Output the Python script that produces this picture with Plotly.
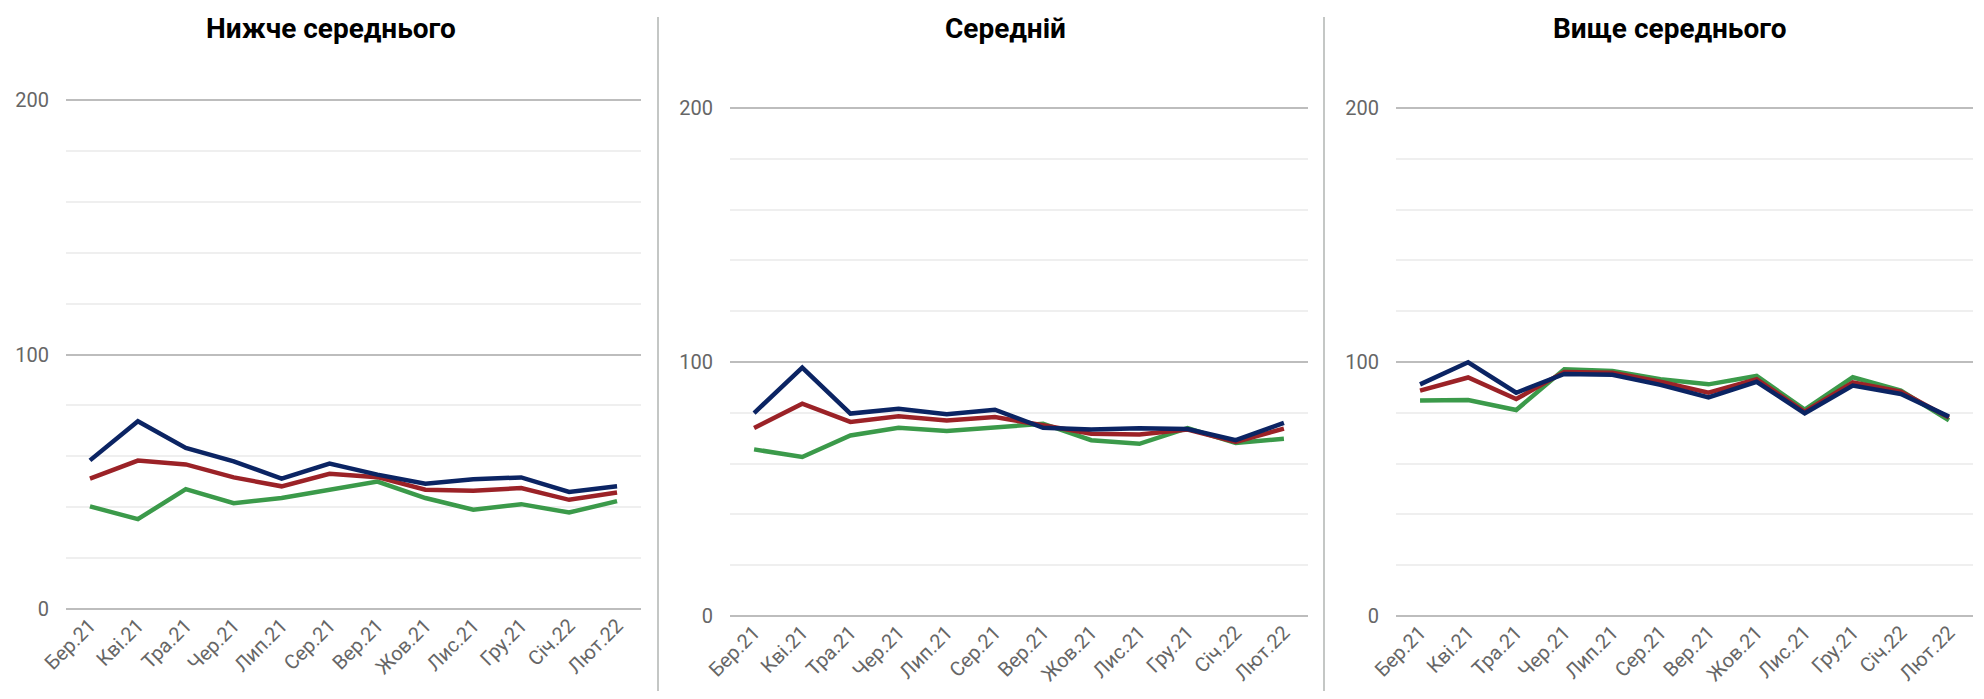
import plotly.graph_objects as go

# Data
months = ['Бер.21', 'Кві.21', 'Тра.21', 'Чер.21', 'Лип.21', 'Сер.21',
          'Вер.21', 'Жов.21', 'Лис.21', 'Гру.21', 'Січ.22', 'Лют.22']

panel_titles = ['Нижче середнього', 'Середній', 'Вище середнього']

# panel 1: below average
below_navy = [58.4, 73.8, 63.3, 58.0, 51.2, 57.1, 52.8, 49.2, 51.0, 51.7, 46.0, 48.2]
below_red = [51.2, 58.3, 56.8, 51.7, 48.2, 53.1, 51.8, 46.9, 46.5, 47.5, 42.9, 45.8]
below_green = [40.3, 35.3, 47.1, 41.6, 43.6, 46.9, 50.1, 43.6, 39.0, 41.2, 37.9, 42.4]

# panel 2: average
mid_navy = [79.9, 97.8, 79.7, 81.6, 79.4, 81.2, 74.1, 73.4, 73.9, 73.6, 69.2, 76.0]
mid_red = [74.0, 83.6, 76.4, 78.6, 77.0, 78.3, 75.1, 71.8, 71.5, 73.4, 68.5, 73.8]
mid_green = [65.6, 62.6, 71.1, 74.1, 72.8, 74.1, 75.7, 69.2, 67.8, 74.0, 68.1, 69.8]

# panel 3: above average
above_navy = [91.2, 99.9, 87.9, 95.3, 95.0, 91.0, 86.1, 92.2, 79.8, 90.7, 87.4, 78.5]
above_red = [88.7, 93.9, 85.4, 96.1, 95.8, 92.2, 87.9, 93.2, 80.4, 92.0, 88.3, 78.1]
above_green = [84.8, 85.0, 81.1, 97.1, 96.5, 93.2, 91.2, 94.5, 81.3, 94.0, 88.7, 77.0]

y_ticks = [0, 100, 200]

panels = [
    (below_green, below_red, below_navy),
    (mid_green, mid_red, mid_navy),
    (above_green, above_red, above_navy),
]

colors = ['#3b9a4a', '#9b2227', '#0b2463']

# the page body has an 8px margin, so the figure sits at (8, 8) in the window
OFF = 8
W, H = 1984 - 2 * OFF, 699 - 2 * OFF
x_px = [(66, 641), (730, 1308), (1396, 1973)]
y_px = [(100, 609), (108, 616), (108, 616)]  # window rows of 200 and 0
title_x = [331, 1005, 1670]
y_top = 202  # a bit of room so the 200 gridline is drawn


def px_x(v):
    return (v - OFF) / W


def px_y(v):
    return 1 - (v - OFF) / H


fig = go.Figure()

for i, series in enumerate(panels):
    suffix = '' if i == 0 else str(i + 1)
    for vals, col in zip(series, colors):
        fig.add_trace(go.Scatter(
            x=months, y=vals, mode='lines',
            line=dict(color=col, width=4.5),
            xaxis='x' + suffix, yaxis='y' + suffix,
            showlegend=False,
        ))
    x0, x1 = x_px[i]
    top, bot = y_px[i]
    top_ext = bot - (bot - top) * y_top / 200
    fig.layout['xaxis' + suffix] = dict(
        domain=[px_x(x0), px_x(x1)], anchor='y' + suffix,
        range=[-0.5, 11.5], tickangle=-45, automargin=False,
        showgrid=False, showline=False, ticks='',
        tickfont=dict(family='Roboto', size=20, color='#666666'),
    )
    fig.layout['yaxis' + suffix] = dict(
        domain=[px_y(bot), px_y(top_ext)], anchor='x' + suffix,
        range=[0, y_top], tickvals=y_ticks, automargin=False,
        showgrid=True, gridcolor='#bdbdbd', gridwidth=2,
        zeroline=True, zerolinecolor='#bdbdbd', zerolinewidth=2,
        minor=dict(dtick=20, showgrid=True, gridcolor='#efefef', gridwidth=2),
        ticklabelstandoff=16,
        tickfont=dict(family='Roboto', size=20, color='#666666'),
    )
    fig.add_annotation(
        text='<b>' + panel_titles[i] + '</b>', xref='paper', yref='paper',
        x=px_x(title_x[i]), y=px_y(10), xanchor='center', yanchor='top',
        showarrow=False, font=dict(family='Roboto', size=28, color='#000000'),
    )

# panel dividers
for xd in [658, 1324]:
    fig.add_shape(type='line', xref='paper', yref='paper',
                  x0=px_x(xd), x1=px_x(xd), y0=0, y1=px_y(17),
                  line=dict(color='#c4c7c5', width=2))

fig.update_layout(
    width=W, height=H,
    margin=dict(l=0, r=0, t=0, b=0),
    plot_bgcolor='white', paper_bgcolor='white',
    font=dict(family='Roboto'),
)

fig.write_html('out.html')
